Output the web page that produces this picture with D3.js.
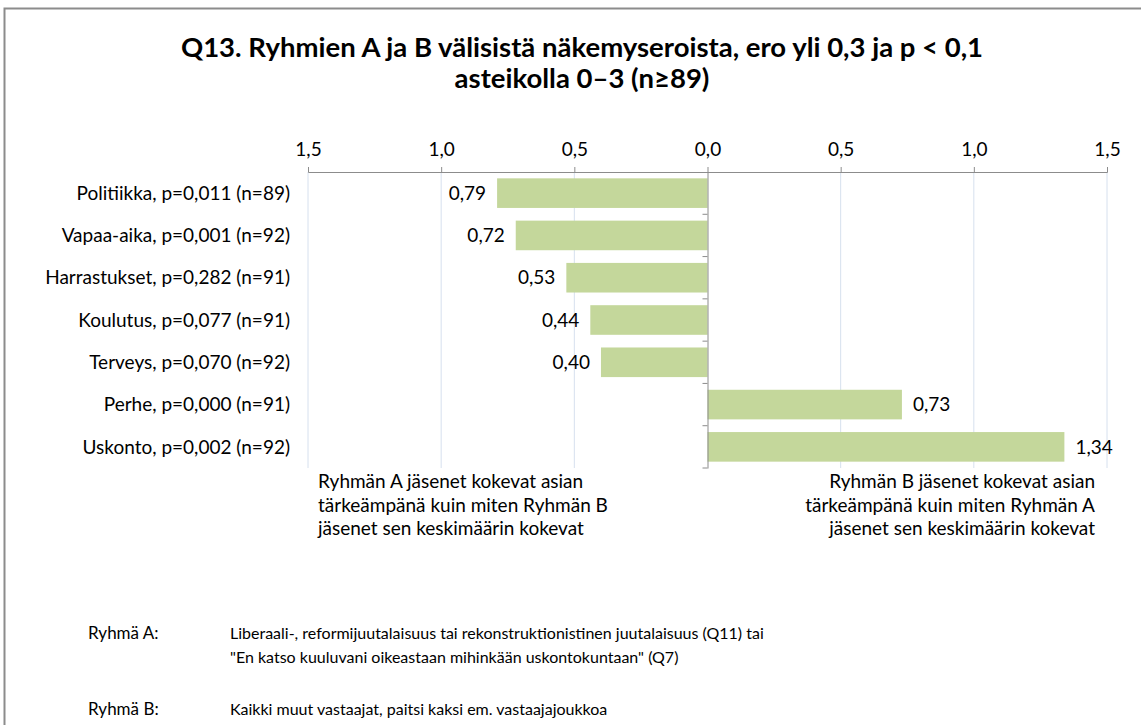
<!DOCTYPE html>
<html>
<head>
<meta charset="utf-8">
<script src="https://cdn.jsdelivr.net/npm/d3@7"></script>
<style>
  html, body { margin: 0; padding: 0; background: #fff; }
  svg { display: block; font-family: Lato, "Open Sans", sans-serif; }
</style>
</head>
<body>
<svg id="chart" width="1141" height="725"></svg>
<script>
// Categories, top to bottom
const categories = [
  "Politiikka, p=0,011 (n=89)",
  "Vapaa-aika, p=0,001 (n=92)",
  "Harrastukset, p=0,282 (n=91)",
  "Koulutus, p=0,077 (n=91)",
  "Terveys, p=0,070 (n=92)",
  "Perhe, p=0,000 (n=91)",
  "Uskonto, p=0,002 (n=92)"
];
// Difference between groups (negative = group A rates higher)
const values = [-0.79, -0.72, -0.53, -0.44, -0.40, 0.73, 1.34];
const tickValues = [-1.5, -1.0, -0.5, 0, 0.5, 1.0, 1.5];

const titleLines = [
  "Q13. Ryhmien A ja B välisistä näkemyseroista, ero yli 0,3 ja p < 0,1",
  "asteikolla 0–3 (n≥89)"
];
const noteLeft = [
  "Ryhmän A jäsenet kokevat asian",
  "tärkeämpänä kuin miten Ryhmän B",
  "jäsenet sen keskimäärin kokevat"
];
const noteRight = [
  "Ryhmän B jäsenet kokevat asian",
  "tärkeämpänä kuin miten Ryhmän A",
  "jäsenet sen keskimäärin kokevat"
];
const groupDefs = [
  { name: "Ryhmä A:", lines: [
    "Liberaali-, reformijuutalaisuus tai rekonstruktionistinen juutalaisuus (Q11) tai",
    "\"En katso kuuluvani oikeastaan mihinkään uskontokuntaan\" (Q7)"
  ]},
  { name: "Ryhmä B:", lines: [
    "Kaikki muut vastaajat, paitsi kaksi em. vastaajajoukkoa"
  ]}
];

const svg = d3.select("#chart");
const fmt = v => d3.format(".2f")(Math.abs(v)).replace(".", ",");
const fmtTick = v => d3.format(".1f")(Math.abs(v)).replace(".", ",");
const FS = 19;

// Outer frame
svg.append("rect")
  .attr("x", 4.5).attr("y", 8.5)
  .attr("width", 1200).attr("height", 800)
  .attr("fill", "#fff").attr("stroke", "#8c8c8c").attr("stroke-width", 2);

// Title
svg.append("g").selectAll("text").data(titleLines).join("text")
  .attr("x", 582).attr("y", (d, i) => 57 + i * 31)
  .attr("text-anchor", "middle")
  .attr("font-size", 27.5).attr("font-weight", "bold").attr("fill", "#000")
  .text(d => d);

const plot = { left: 308, right: 1107, top: 172, bottom: 468 };

const x = d3.scaleLinear().domain([-1.5, 1.5]).range([plot.left, plot.right]);
const y = d3.scaleBand().domain(categories).range([plot.top, plot.bottom]).paddingInner(0.3).paddingOuter(0.15);

// Vertical gridlines
svg.append("g").selectAll("line").data(tickValues.filter(v => v !== 0)).join("line")
  .attr("x1", d => x(d)).attr("x2", d => x(d))
  .attr("y1", plot.top).attr("y2", plot.bottom)
  .attr("stroke", "#d6e0ee").attr("stroke-width", 1);

// Top axis
const xAxis = svg.append("g")
  .attr("transform", `translate(0,${plot.top})`)
  .call(d3.axisTop(x).tickValues(tickValues).tickFormat(fmtTick).tickSize(5).tickSizeOuter(5).tickPadding(11));
xAxis.select(".domain").attr("stroke", "#8c8c8c");
xAxis.selectAll(".tick line").attr("stroke", "#8c8c8c");
xAxis.selectAll(".tick text").attr("font-size", FS).attr("fill", "#000").attr("font-family", "Lato, sans-serif");

// Bars
svg.append("g").selectAll("rect").data(values).join("rect")
  .attr("x", d => x(Math.min(0, d)))
  .attr("width", d => Math.abs(x(d) - x(0)))
  .attr("y", (d, i) => y(categories[i]))
  .attr("height", y.bandwidth())
  .attr("fill", "#c4d79b");

// Zero axis with category ticks
const yAxis = svg.append("g")
  .attr("transform", `translate(${x(0)},0)`)
  .call(d3.axisLeft(y).tickSize(0).tickFormat(""));
yAxis.select(".domain").attr("stroke", "#8c8c8c");
const boundaries = d3.range(categories.length + 1).map(i => plot.top + i * (plot.bottom - plot.top) / categories.length);
svg.append("g").selectAll("line").data(boundaries.slice(1)).join("line")
  .attr("x1", x(0) - 5).attr("x2", x(0))
  .attr("y1", d => d).attr("y2", d => d)
  .attr("stroke", "#8c8c8c");

// Category labels
svg.append("g").selectAll("text").data(categories).join("text")
  .attr("x", 290)
  .attr("y", d => y(d) + y.bandwidth() / 2)
  .attr("dy", "0.35em")
  .attr("text-anchor", "end")
  .attr("font-size", FS).attr("fill", "#000")
  .text(d => d);

// Value labels
svg.append("g").selectAll("text").data(values).join("text")
  .attr("x", d => d < 0 ? x(d) - 11 : x(d) + 11)
  .attr("y", (d, i) => y(categories[i]) + y.bandwidth() / 2)
  .attr("dy", "0.35em")
  .attr("text-anchor", d => d < 0 ? "end" : "start")
  .attr("font-size", FS).attr("fill", "#000")
  .text(d => fmt(d));

// Direction notes
svg.append("g").selectAll("text").data(noteLeft).join("text")
  .attr("x", 318).attr("y", (d, i) => 488 + i * 23.5)
  .attr("font-size", FS).attr("fill", "#000")
  .text(d => d);
svg.append("g").selectAll("text").data(noteRight).join("text")
  .attr("x", 1095).attr("y", (d, i) => 488 + i * 23.5)
  .attr("text-anchor", "end")
  .attr("font-size", FS).attr("fill", "#000")
  .text(d => d);

// Group definitions
const defY = [639, 715];
groupDefs.forEach((g, gi) => {
  svg.append("text")
    .attr("x", 88).attr("y", defY[gi])
    .attr("font-size", 17).attr("fill", "#000")
    .text(g.name);
  svg.append("g").selectAll("text").data(g.lines).join("text")
    .attr("x", 230).attr("y", (d, i) => defY[gi] + i * 24)
    .attr("font-size", 16).attr("fill", "#000")
    .text(d => d);
});
</script>
</body>
</html>
